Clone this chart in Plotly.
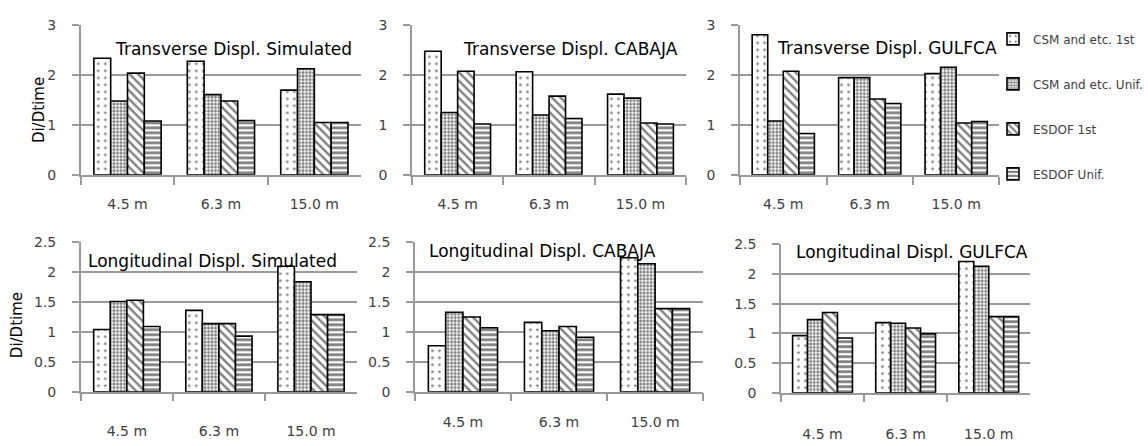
import plotly.graph_objects as go

# ---------------- data ----------------
categories = ["4.5 m", "6.3 m", "15.0 m"]
series_names = ["CSM and etc. 1st", "CSM and etc. Unif.", "ESDOF 1st", "ESDOF Unif."]

# order of inner lists: CSM 1st, CSM Unif., ESDOF 1st, ESDOF Unif.
trans_simulated = [[2.34, 2.28, 1.70], [1.48, 1.61, 2.13], [2.04, 1.48, 1.05], [1.08, 1.09, 1.05]]
trans_cabaja = [[2.48, 2.07, 1.62], [1.25, 1.20, 1.54], [2.08, 1.58, 1.04], [1.02, 1.13, 1.02]]
trans_gulfca = [[2.81, 1.95, 2.03], [1.08, 1.95, 2.16], [2.08, 1.52, 1.04], [0.83, 1.43, 1.07]]
long_simulated = [[1.04, 1.36, 2.10], [1.51, 1.14, 1.84], [1.53, 1.14, 1.29], [1.09, 0.93, 1.29]]
long_cabaja = [[0.77, 1.16, 2.24], [1.33, 1.02, 2.14], [1.25, 1.09, 1.39], [1.07, 0.91, 1.39]]
long_gulfca = [[0.96, 1.18, 2.21], [1.23, 1.17, 2.13], [1.35, 1.09, 1.28], [0.92, 0.99, 1.28]]

panel_titles = ["Transverse Displ. Simulated", "Transverse Displ. CABAJA", "Transverse Displ. GULFCA",
                "Longitudinal Displ. Simulated", "Longitudinal Displ. CABAJA", "Longitudinal Displ. GULFCA"]
panel_values = [trans_simulated, trans_cabaja, trans_gulfca, long_simulated, long_cabaja, long_gulfca]
y_title = "Di/Dtime"

# ---------------- layout (pixels) ----------------
W, H = 1148, 446
FONT = "DejaVu Sans"
GRID = "#9a9a9a"

# (x0, x1, ytop, ybottom, ymax, dtick, xlabel standoff, title cx, title cy)
panel_geom = [
    (81, 362, 18, 173, 3, 1, 16, 234, 43),
    (413, 688, 18, 173, 3, 1, 16, 572, 43),
    (742, 1002, 18, 173, 3, 1, 16, 889, 41),
    (81, 358, 243, 398, 2.5, 0.5, 26, 213, 262),
    (416, 705, 243, 398, 2.5, 0.5, 17, 544, 252),
    (783, 1033, 245, 399, 2.5, 0.5, 28, 914, 253),
]

patterns = [
    dict(shape=".", size=7, solidity=0.12, fgcolor="black", bgcolor="white"),
    dict(shape=".", size=3.5, solidity=0.55, fgcolor="black", bgcolor="white"),
    dict(shape="\\", size=6, solidity=0.4, fgcolor="black", bgcolor="white"),
    dict(shape="-", size=5, solidity=0.55, fgcolor="black", bgcolor="white"),
]

fig = go.Figure()
layout = dict()
annotations = []

for i, (vals, geom, title) in enumerate(zip(panel_values, panel_geom, panel_titles)):
    k = i + 1
    sx = "" if k == 1 else str(k)
    x0, x1, yt, yb, ymax, dt, stand, tcx, tcy = geom
    for j, name in enumerate(series_names):
        fig.add_trace(go.Bar(
            x=categories, y=vals[j], name=name, legendgroup=name,
            showlegend=(k == 1),
            xaxis="x" + sx, yaxis="y" + sx,
            marker=dict(color="white", line=dict(color="black", width=1.6), pattern=patterns[j]),
        ))
    layout["xaxis" + sx] = dict(
        domain=[x0 / W, x1 / W], anchor="y" + sx, type="category",
        showline=True, linecolor=GRID, linewidth=1.5, showgrid=False,
        ticks="outside", tickson="boundaries", ticklen=8, tickcolor=GRID, tickwidth=1.5,
        tickfont=dict(family=FONT, size=14, color="#404040"), ticklabelstandoff=stand,
        fixedrange=True,
    )
    layout["yaxis" + sx] = dict(
        domain=[1 - yb / H, 1 - yt / H], anchor="x" + sx, range=[0, ymax], dtick=dt,
        showgrid=True, gridcolor=GRID, gridwidth=1.5, zeroline=False,
        showline=True, linecolor=GRID, linewidth=1.5,
        ticks="outside", ticklen=7, tickcolor=GRID, tickwidth=1.5,
        tickfont=dict(family=FONT, size=14, color="#404040"), ticklabelstandoff=13,
        fixedrange=True,
    )
    annotations.append(dict(
        text=title, x=tcx / W, y=1 - tcy / H, xref="paper", yref="paper",
        xanchor="center", yanchor="middle", showarrow=False,
        font=dict(family=FONT, size=17, color="black"),
    ))

for cx, cy in ((39, 106), (17, 329)):
    annotations.append(dict(
        text=y_title, x=cx / W, y=1 - cy / H, xref="paper", yref="paper",
        xanchor="center", yanchor="middle", showarrow=False, textangle=-90,
        font=dict(family=FONT, size=15, color="black"),
    ))

fig.update_layout(
    **layout,
    annotations=annotations,
    width=W, height=H,
    margin=dict(l=0, r=0, t=0, b=0),
    paper_bgcolor="white", plot_bgcolor="white",
    barmode="group", bargap=0.28, bargroupgap=0,
    showlegend=True,
    legend=dict(
        x=996 / W, y=1 - 17 / H, xanchor="left", yanchor="top",
        font=dict(family=FONT, size=12, color="#404040"),
        tracegroupgap=26, itemwidth=30, bgcolor="rgba(0,0,0,0)",
    ),
    font=dict(family=FONT),
)

fig.write_html("out.html")
